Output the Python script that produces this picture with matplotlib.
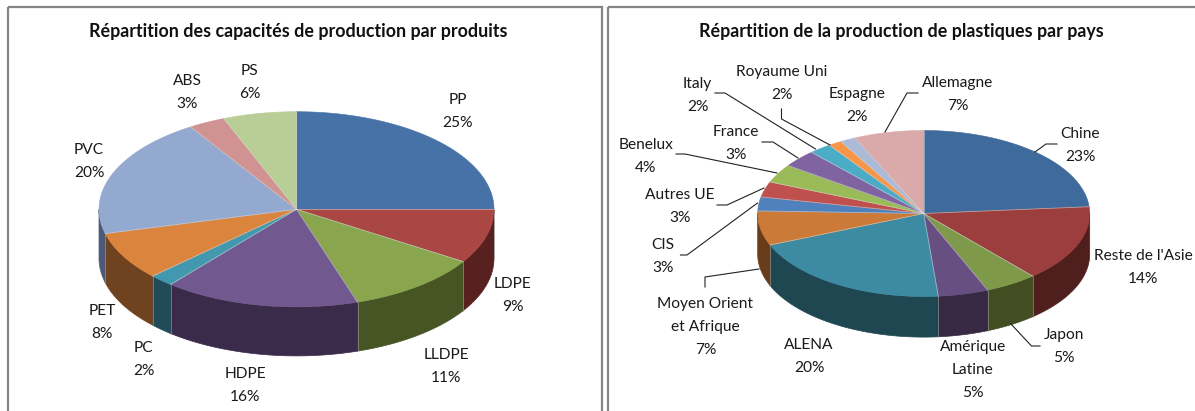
import numpy as np
import matplotlib
matplotlib.use("Agg")
import matplotlib.pyplot as plt
from matplotlib.patches import Polygon, Rectangle

plt.rcParams["font.family"] = ["Lato", "DejaVu Sans"]

# ── data ─────────────────────────────────────────────────────────────────────
PROD_TITLE = "Répartition des capacités de production par produits"
PROD_NAMES = ["PP", "LDPE", "LLDPE", "HDPE", "PC", "PET", "PVC", "ABS", "PS"]
PROD_VALUES = [25.0, 9.0, 11.0, 16.0, 2.0, 8.0, 20.0, 3.0, 6.0]
PROD_PCT = ["25%", "9%", "11%", "16%", "2%", "8%", "20%", "3%", "6%"]

PAYS_TITLE = "Répartition de la production de plastiques par pays"
PAYS_NAMES = ["Chine", "Reste de l'Asie", "Japon", "Amérique\nLatine", "ALENA",
              "Moyen Orient\net Afrique", "CIS", "Autres UE", "Benelux", "France",
              "Italy", "Royaume Uni", "Espagne", "Allemagne"]
# slice shares as measured on the drawn pie, the printed labels are rounded apart
PAYS_VALUES = [23.7, 14.9, 5.1, 4.9, 20.2, 6.7, 2.7, 3.0, 3.6, 3.4, 2.2, 1.3, 1.5, 6.8]
PAYS_PCT = ["23%", "14%", "5%", "5%", "20%", "7%", "3%", "3%", "4%", "3%",
            "2%", "2%", "2%", "7%"]

# ── styles ───────────────────────────────────────────────────────────────────
PROD_TOP = ["#4672A8", "#AA4644", "#89A54E", "#71588F", "#4198AF", "#DB843D",
            "#93A9CF", "#D19392", "#B9CD96"]
PROD_SIDE = ["#2F4B6E", "#582120", "#475524", "#3B2B4A", "#204B57", "#6F4220",
             "#4C5A78", "#6E4A4A", "#60694C"]
PAYS_TOP = ["#3F6A9C", "#9C3E3D", "#7E994A", "#684F82", "#3C8BA3", "#CC7A38",
            "#4F81BD", "#C0504D", "#9BBB59", "#8064A2", "#4BACC6", "#F79646",
            "#AABAD7", "#D9AAA9"]
PAYS_SIDE = ["#2A466A", "#4F1F1E", "#424D22", "#372843", "#1F4752", "#693D1A",
             "#2B4A70", "#6B2B2A", "#546432", "#46365A", "#286070", "#8A5020",
             "#5E6878", "#785E5E"]

BORDER = "#868686"
TXT = "#1A1A1A"
LINE_H = 23

# pixel layout: first-line centre of each label
PROD_LABEL_XY = [(458, 100), (513, 284), (446, 355), (245, 374), (143.5, 348),
                 (102, 311), (89, 150), (187, 81), (250, 71)]
PAYS_LABEL_XY = [(1080, 134), (1143, 256), (1064, 335), (973, 347), (809, 345),
                 (705.5, 304), (663, 245), (680, 195), (646, 145), (736, 132),
                 (697.5, 84), (782, 72), (857, 94), (958, 83)]

LEADERS = [
    [(1057, 144), (1046, 144), (1035, 152)],
    [(1040, 346), (1031.5, 346), (1011, 324)],
    [(705, 287), (705, 277), (759, 269)],
    [(680.5, 255), (687, 255), (757.5, 203)],
    [(717, 205), (727, 205), (764, 188)],
    [(676, 154), (685, 154), (777, 173)],
    [(762, 142), (773, 142), (798, 158)],
    [(715, 93), (725, 93), (815.5, 149)],
    [(781.5, 109), (781.5, 119), (830, 145)],
    [(918, 93), (907, 93), (885, 132)],
]


def rim(cx, cy, rx, ry, a0, a1):
    # a measured clockwise from the top of the ellipse, in degrees
    t = np.radians(np.linspace(a0, a1, max(int(abs(a1 - a0) * 2), 2)))
    return np.column_stack([cx + rx * np.sin(t), cy - ry * np.cos(t)])


def pie3d(ax, cx, cy, rx, ry, depth, values, top_cols, side_cols):
    vals = np.asarray(values, dtype=float)
    edges = np.concatenate([[0], np.cumsum(vals)]) / vals.sum() * 360
    # side wall, only the front half of the rim is visible
    for i in range(len(vals)):
        a0, a1 = max(edges[i], 90), min(edges[i + 1], 270)
        if a1 <= a0:
            continue
        up = rim(cx, cy, rx, ry, a0, a1)
        down = up[::-1] + [0, depth]
        ax.add_patch(Polygon(np.vstack([up, down]), closed=True,
                             facecolor=side_cols[i], edgecolor=side_cols[i],
                             lw=0.5, zorder=2))
        if edges[i] >= 90:
            ax.plot([up[0, 0]] * 2, [up[0, 1], up[0, 1] + depth],
                    color="#9A9A9A", lw=0.6, alpha=0.7, zorder=3)
    # top face
    for i in range(len(vals)):
        pts = np.vstack([[cx, cy], rim(cx, cy, rx, ry, edges[i], edges[i + 1])])
        ax.add_patch(Polygon(pts, closed=True, facecolor=top_cols[i],
                             edgecolor=top_cols[i], lw=0.4, zorder=4))
    for a in edges[:-1]:
        p = rim(cx, cy, rx, ry, a, a + 0.01)[0]
        ax.plot([cx, p[0]], [cy, p[1]], color="#D8D8D8", lw=0.6, alpha=0.6, zorder=5)


def labels(ax, names, pct, xy):
    for name, val, (x, y) in zip(names, pct, xy):
        lines = name.split("\n") + [val]
        for k, ln in enumerate(lines):
            ax.text(x, y + k * LINE_H, ln, ha="center", va="center",
                    fontsize=11.2, color=TXT, zorder=8)


# ── canvas ───────────────────────────────────────────────────────────────────
fig = plt.figure(figsize=(11.95, 4.11), dpi=100)
ax = fig.add_axes([0, 0, 1, 1])
ax.set_xlim(0, 1195)
ax.set_ylim(411, 0)
ax.axis("off")

# panel frames, cut off at the bottom and right of the image
ax.add_patch(Rectangle((8, 7), 594, 420, fill=False, edgecolor=BORDER, lw=1.6))
ax.add_patch(Rectangle((608.5, 7.5), 610, 420, fill=False, edgecolor=BORDER, lw=1.6))

ax.text(298, 31.5, PROD_TITLE, ha="center", va="center", fontsize=12.85,
        fontweight="bold", color="#111111")
ax.text(901, 32, PAYS_TITLE, ha="center", va="center", fontsize=12.85,
        fontweight="bold", color="#111111")

pie3d(ax, 296.5, 209.3, 197.5, 97.6, 49, PROD_VALUES, PROD_TOP, PROD_SIDE)
pie3d(ax, 923.7, 213.5, 166, 83, 40.6, PAYS_VALUES, PAYS_TOP, PAYS_SIDE)

labels(ax, PROD_NAMES, PROD_PCT, PROD_LABEL_XY)
labels(ax, PAYS_NAMES, PAYS_PCT, PAYS_LABEL_XY)

for pts in LEADERS:
    xs, ys = zip(*pts)
    ax.plot(xs, ys, color="#222222", lw=0.8, zorder=7)

fig.savefig("out.png", dpi=100, facecolor="white")
plt.close()
